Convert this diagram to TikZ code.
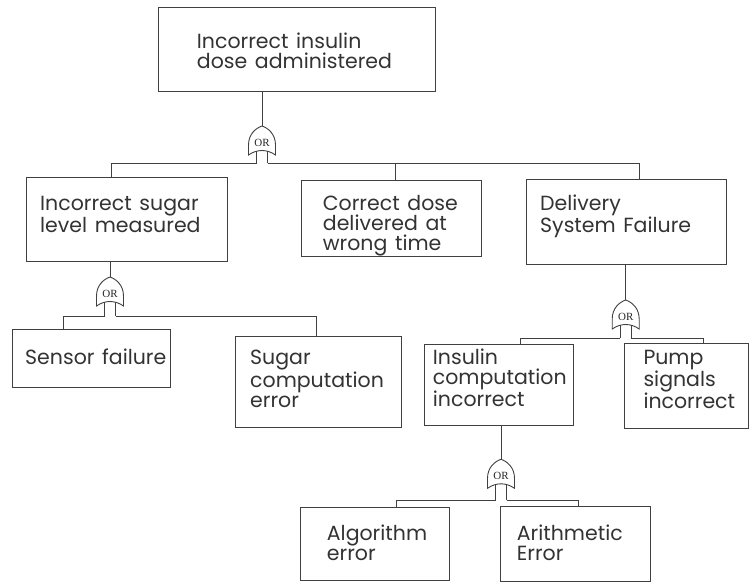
\documentclass[tikz,border=0pt]{standalone}
\usepackage{fontspec}
\setmainfont{Poppins}[WordSpace=1.4]
\newfontfamily\gatefont{Liberation Serif}
\usetikzlibrary{calc}

\tikzset{
  wire/.style={draw=black!75, line width=0.9pt},
  box/.style={wire, rectangle, inner sep=0pt, outer sep=0pt, anchor=north west},
  % anchored on the baseline of the last line
  lbl/.style={anchor=base west, inner sep=0pt, align=left, text=black!80,
              font=\fontsize{20.5}{20}\selectfont},
  gatetxt/.style={inner sep=0pt, text=black!85, font=\gatefont\fontsize{11}{11}\selectfont},
  % OR gate: apex at the origin, legs running down to the bus line at depth #1
  pics/orgate/.style={code={
    \draw[wire, fill=white] (-13.5,29) -- (-13.5,19)
      .. controls (-13.5,8) and (-6,2) .. (0,0)
      .. controls (6,2) and (13.5,8) .. (13.5,19) -- (13.5,29)
      .. controls (5,23) and (-5,23) .. cycle;
    \node[gatetxt] (-or) at (0,16.5) {OR};
    \coordinate (-in) at (0,0);
    \coordinate (-l) at (-5.5,25.2);
    \coordinate (-r) at (5.5,25.2);
    \coordinate (-lb) at (-5.5,#1);
    \coordinate (-rb) at (5.5,#1);
    \draw[wire] (-l) -- (-lb) (-r) -- (-rb);
  }},
}

\begin{document}
\begin{tikzpicture}[x=1pt, y=-1pt]
\useasboundingbox[fill=white] (0,0) rectangle (750,582);

% event boxes
\node[box, minimum width=277.4pt, minimum height=84.4pt] (top)        at (158.3,7.3) {};
\node[box, minimum width=201pt,   minimum height=83.7pt] (sugar)      at (26.7,177.3) {};
\node[box, minimum width=180pt,   minimum height=75.3pt] (correct)    at (301.7,180.7) {};
\node[box, minimum width=200pt,   minimum height=84.7pt] (delivery)   at (526.7,179.3) {};
\node[box, minimum width=157.3pt, minimum height=58.4pt] (sensor)     at (12.7,329.3) {};
\node[box, minimum width=166.7pt, minimum height=91pt]   (sugarcomp)  at (235,336) {};
\node[box, minimum width=148.8pt, minimum height=80.5pt] (insulin)    at (424.5,344.5) {};
\node[box, minimum width=124.3pt, minimum height=85pt]   (pump)       at (624,343.3) {};
\node[box, minimum width=148.3pt, minimum height=73.4pt] (algorithm)  at (300.7,507.3) {};
\node[box, minimum width=150pt,   minimum height=75pt]   (arithmetic) at (500,506) {};

% box texts
\node[lbl] (topT)        at (196.7,68.3)  {Incorrect insulin\\dose administered};
\node[lbl] (sugarT)      at (40,232.3)    {Incorrect sugar\\level measured};
\node[lbl] (correctT)    at (322.7,250)   {Correct dose\\delivered at\\wrong time};
\node[lbl] (deliveryT)   at (540,232.3)   {Delivery\\System Failure};
\node[lbl] (sensorT)     at (25,364)      {Sensor failure};
\node[lbl] (sugarcompT)  at (250,407)     {Sugar\\computation\\error};
\node[lbl] (insulinT)    at (432.7,406.7) {Insulin\\computation\\incorrect};
\node[lbl] (pumpT)       at (643.3,408.3) {Pump\\signals\\incorrect};
\node[lbl] (algorithmT)  at (326.7,560.7) {Algorithm\\error};
\node[lbl] (arithmeticT) at (516.7,560.7) {Arithmetic\\Error};

% OR gates
\pic (g1) at (262,126)   {orgate=37.3};
\pic (g2) at (110,277)   {orgate=39};
\pic (g3) at (625.7,300) {orgate=38.3};
\pic (g4) at (501,459.3) {orgate=40.7};

% gate inputs
\draw[wire] (g1-in |- top.south)      -- (g1-in);
\draw[wire] (g2-in |- sugar.south)    -- (g2-in);
\draw[wire] (g3-in |- delivery.south) -- (g3-in);
\draw[wire] (g4-in |- insulin.south)  -- (g4-in);

% gate outputs
\coordinate (cdrop) at ($(correct.north west)+(93.3,0)$);
\draw[wire] (g1-lb) -| ($(sugar.north west)+(85,0)$);
\draw[wire] (g1-rb) -| ($(delivery.north west)+(112.6,0)$);
\draw[wire] (cdrop |- g1-rb) -- (cdrop);

\draw[wire] (g2-lb) -| ($(sensor.north west)+(50.6,0)$);
\draw[wire] (g2-rb) -| ($(sugarcomp.north west)+(81.7,0)$);

\draw[wire] (g3-lb) -| ($(insulin.north west)+(95.5,0)$);
\draw[wire] (g3-rb) -| ($(pump.north west)+(79.3,0)$);

\draw[wire] (g4-lb) -| ($(algorithm.north west)+(95.3,0)$);
\draw[wire] (g4-rb) -| ($(arithmetic.north west)+(78.7,0)$);
\end{tikzpicture}
\end{document}
